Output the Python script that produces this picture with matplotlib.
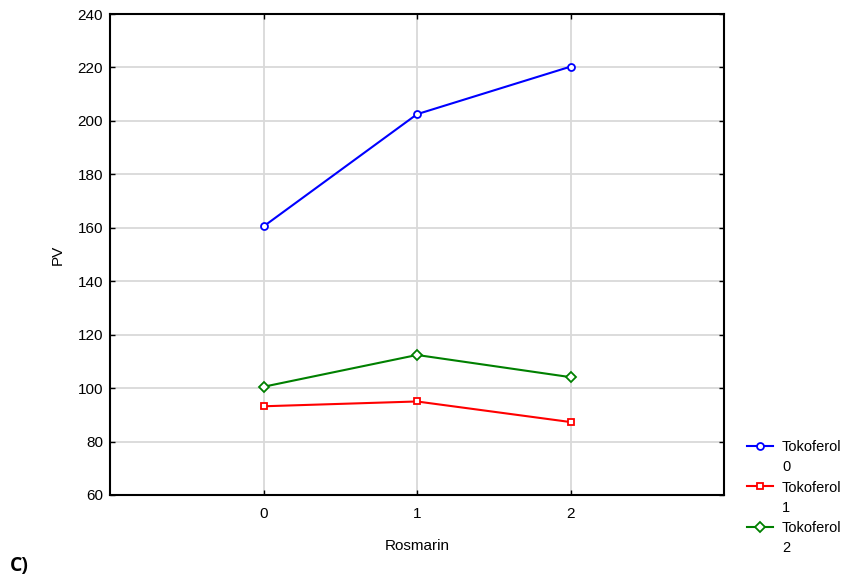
import matplotlib
matplotlib.use("Agg")
import matplotlib.pyplot as plt
from matplotlib.lines import Line2D

plt.rcParams['font.family'] = ['Liberation Sans', 'DejaVu Sans']

rosmarin = [0, 1, 2]
series_title = "Tokoferol"
series_levels = ["0", "1", "2"]
tok0 = [160.5, 202.5, 220.3]
tok1 = [93.2, 95.0, 87.3]
tok2 = [100.5, 112.4, 104.1]
xticks = [0, 1, 2]
yticks = [60, 80, 100, 120, 140, 160, 180, 200, 220, 240]

fig = plt.figure(figsize=(8.47, 5.81), dpi=100)
ax = fig.add_axes([110/847, 1-495/581, 614/847, 481/581])

common = dict(markersize=5, markerfacecolor='white', markeredgewidth=1.3, linewidth=1.5)
h0, = ax.plot(rosmarin, tok0, color='#0000ff', marker='o', **common)
h1, = ax.plot(rosmarin, tok1, color='#ff0000', marker='s', **common)
h2, = ax.plot(rosmarin, tok2, color='#008000', marker='D', **common)

ax.set_xlim(-1, 3)
ax.set_ylim(60, 240)
ax.set_xticks(xticks)
ax.set_yticks(yticks)
ax.grid(True, color='#d9d9d9', linewidth=1.3)
ax.set_axisbelow(True)
ax.tick_params(direction='in', top=True, right=True, length=3.5, width=1, labelsize=11)
ax.tick_params(axis='x', pad=9)
ax.tick_params(axis='y', pad=5)
for s in ax.spines.values():
    s.set_linewidth(1.5)
ax.set_xlabel("Rosmarin", fontsize=11)
ax.set_ylabel("PV", fontsize=11)
ax.xaxis.set_label_coords(0.5, -0.092)
ax.yaxis.set_label_coords(-0.074, 0.5)

blank = Line2D([], [], linestyle='none', marker=None)
handles = []
labels = []
for h, lvl in zip([h0, h1, h2], series_levels):
    handles += [h, blank]
    labels += [series_title, lvl]

leg = fig.legend(handles, labels, loc='upper left', bbox_to_anchor=(747/847, 1-440/581),
                 bbox_transform=fig.transFigure, frameon=False, fontsize=10.5,
                 handlelength=1.8, handletextpad=0.6, labelspacing=0.43, borderpad=0,
                 borderaxespad=0, numpoints=1)

fig.text(10/847, 1-571/581, "C)", fontsize=14, fontweight='bold',
         family=['Open Sans', 'DejaVu Sans'])

fig.savefig("out.png", dpi=100)
